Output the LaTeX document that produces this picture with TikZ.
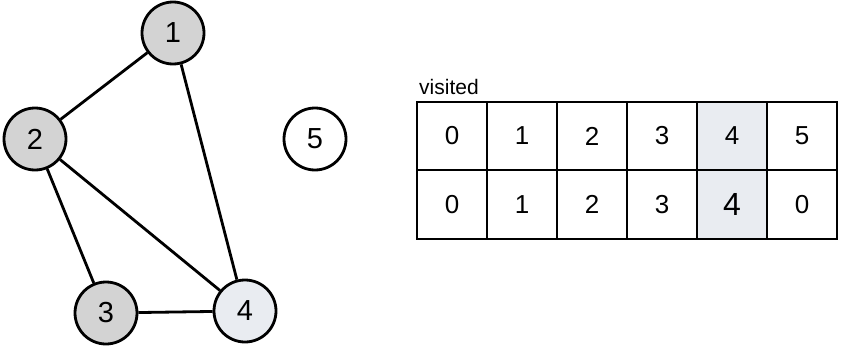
\documentclass[tikz,border=0pt]{standalone}
\usepackage{fontspec}
\setmainfont{Liberation Sans}
\begin{document}
\begin{tikzpicture}[x=1pt,y=-1pt,
  vert/.style={circle,draw=black,line width=2.8pt,minimum size=62pt,inner sep=0pt,font=\fontsize{29}{29}\selectfont},
  edge/.style={line width=2.8pt},
  cellbox/.style={draw=black,line width=2.8pt,minimum width=70pt,inner sep=0pt,font=\fontsize{26}{26}\selectfont}]
\useasboundingbox (0,0) rectangle (850,361);
\definecolor{visgray}{HTML}{D3D3D3}
\definecolor{curblue}{HTML}{E9ECF1}
% graph
\node[vert,fill=visgray] (n1) at (173,33) {1};
\node[vert,fill=visgray] (n2) at (35,139) {2};
\node[vert,fill=visgray] (n3) at (106,313) {3};
\node[vert,fill=curblue] (n4) at (245,311) {4};
\node[vert,fill=white] (n5) at (315,139) {5};
\draw[edge] (n1) -- (n2);
\draw[edge] (n1) -- (n4);
\draw[edge] (n2) -- (n4);
\draw[edge] (n2) -- (n3);
\draw[edge] (n3) -- (n4);
% table
\node[anchor=south west,inner sep=0pt,font=\fontsize{21}{21}\selectfont] (lab) at (419,95) {visited};
\foreach \i in {0,...,5}{
  \pgfmathsetmacro{\xx}{452+70*\i}
  \ifnum\i=4
    \node[cellbox,minimum height=68pt,fill=curblue] (t\i) at (\xx,136) {\i};
  \else
    \node[cellbox,minimum height=68pt] (t\i) at (\xx,136) {\i};
  \fi
}
\foreach \i/\v in {0/0,1/1,2/2,3/3,4/4,5/0}{
  \pgfmathsetmacro{\xx}{452+70*\i}
  \ifnum\i=4
    \node[cellbox,minimum height=69pt,fill=curblue,font=\fontsize{32}{32}\selectfont] (b\i) at (\xx,204.5) {\v};
  \else
    \node[cellbox,minimum height=69pt] (b\i) at (\xx,204.5) {\v};
  \fi
}
\end{tikzpicture}
\end{document}
